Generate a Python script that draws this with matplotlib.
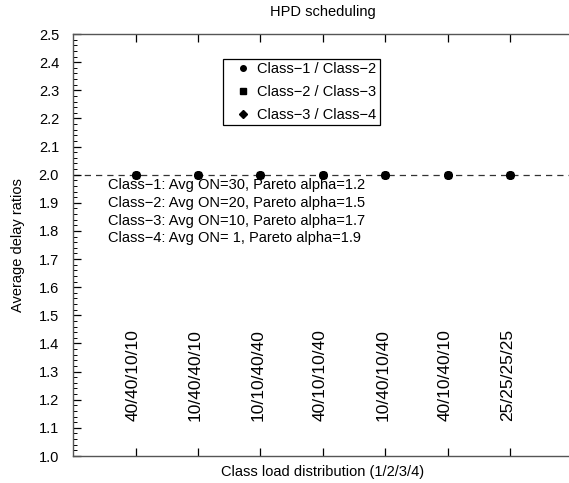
import matplotlib
matplotlib.use('Agg')
import matplotlib.pyplot as plt
import numpy as np

plt.rcParams['font.family'] = ['Liberation Sans', 'DejaVu Sans']
plt.rcParams['font.size'] = 10.5

# load distributions (class 1/2/3/4) and measured delay ratios
load_labels = ['40/40/10/10', '10/40/40/10', '10/10/40/40', '40/10/10/40',
               '10/40/10/40', '40/10/40/10', '25/25/25/25']
ratio_12 = [2.0, 2.0, 2.0, 2.0, 2.0, 2.0, 2.0]
ratio_23 = [2.0, 2.0, 2.0, 2.0, 2.0, 2.0, 2.0]
ratio_34 = [2.0, 2.0, 2.0, 2.0, 2.0, 2.0, 2.0]
target_ratio = 2.0

class_notes = ['Class\u22121: Avg ON=30, Pareto alpha=1.2',
               'Class\u22122: Avg ON=20, Pareto alpha=1.5',
               'Class\u22123: Avg ON=10, Pareto alpha=1.7',
               'Class\u22124: Avg ON= 1, Pareto alpha=1.9']

x = np.arange(1, len(load_labels) + 1)

fig = plt.figure(figsize=(5.69, 4.83), dpi=100)
ax = fig.add_axes([0.1283, 0.0559, 0.8787, 0.8737])

ax.axhline(target_ratio, color='#333333', lw=0.9, ls=(0, (5, 4)), zorder=1)
ax.plot(x, ratio_34, 'D', ms=4, color='black', label='Class\u22123 / Class\u22124', zorder=3)
ax.plot(x, ratio_23, 's', ms=4.5, color='black', label='Class\u22122 / Class\u22123', zorder=3)
ax.plot(x, ratio_12, 'o', ms=5.5, color='black', label='Class\u22121 / Class\u22122', zorder=3)

for xi, lab in zip(x, load_labels):
    ax.text(xi - 0.04, 1.125, lab, rotation=90, ha='center', va='bottom',
            fontsize=12.5)

for i, note in enumerate(class_notes):
    ax.text(0.56, 1.963 - i * 0.063, note, ha='left', va='center')

handles, labels = ax.get_legend_handles_labels()
leg = ax.legend(handles[::-1], labels[::-1], loc='upper left',
                bbox_to_anchor=(0.30, 0.941), bbox_transform=ax.transAxes,
                borderaxespad=0, handlelength=2.2, handletextpad=-0.1,
                borderpad=0.24, labelspacing=0.59, fancybox=False, framealpha=1,
                edgecolor='black')
leg.get_frame().set_linewidth(0.9)
for h in leg.legend_handles:
    h.set_markersize(4)

ax.set_xlim(0, 8)
ax.set_ylim(1.0, 2.5)
ax.set_xticks(x)
ax.set_xticklabels([])
ax.set_yticks(np.arange(1.0, 2.51, 0.1))
ax.set_yticklabels([f'{v:.1f}' for v in np.arange(1.0, 2.51, 0.1)])
ax.set_yticks(np.arange(1.0, 2.501, 0.02), minor=True)
ax.tick_params(axis='x', which='major', direction='in', length=6, width=0.9,
               top=True)
ax.tick_params(axis='y', which='major', direction='in', length=6, width=0.9,
               right=False, pad=10)
ax.tick_params(axis='y', which='minor', direction='in', length=3, width=0.7, right=False)
for s in ax.spines.values():
    s.set_color('#555555')
    s.set_linewidth(1.0)

ax.set_title('HPD scheduling', fontsize=10.5, pad=13)
ax.set_xlabel('Class load distribution (1/2/3/4)', labelpad=3)
ax.set_ylabel('Average delay ratios', labelpad=10)

fig.savefig('out.png', dpi=100)
